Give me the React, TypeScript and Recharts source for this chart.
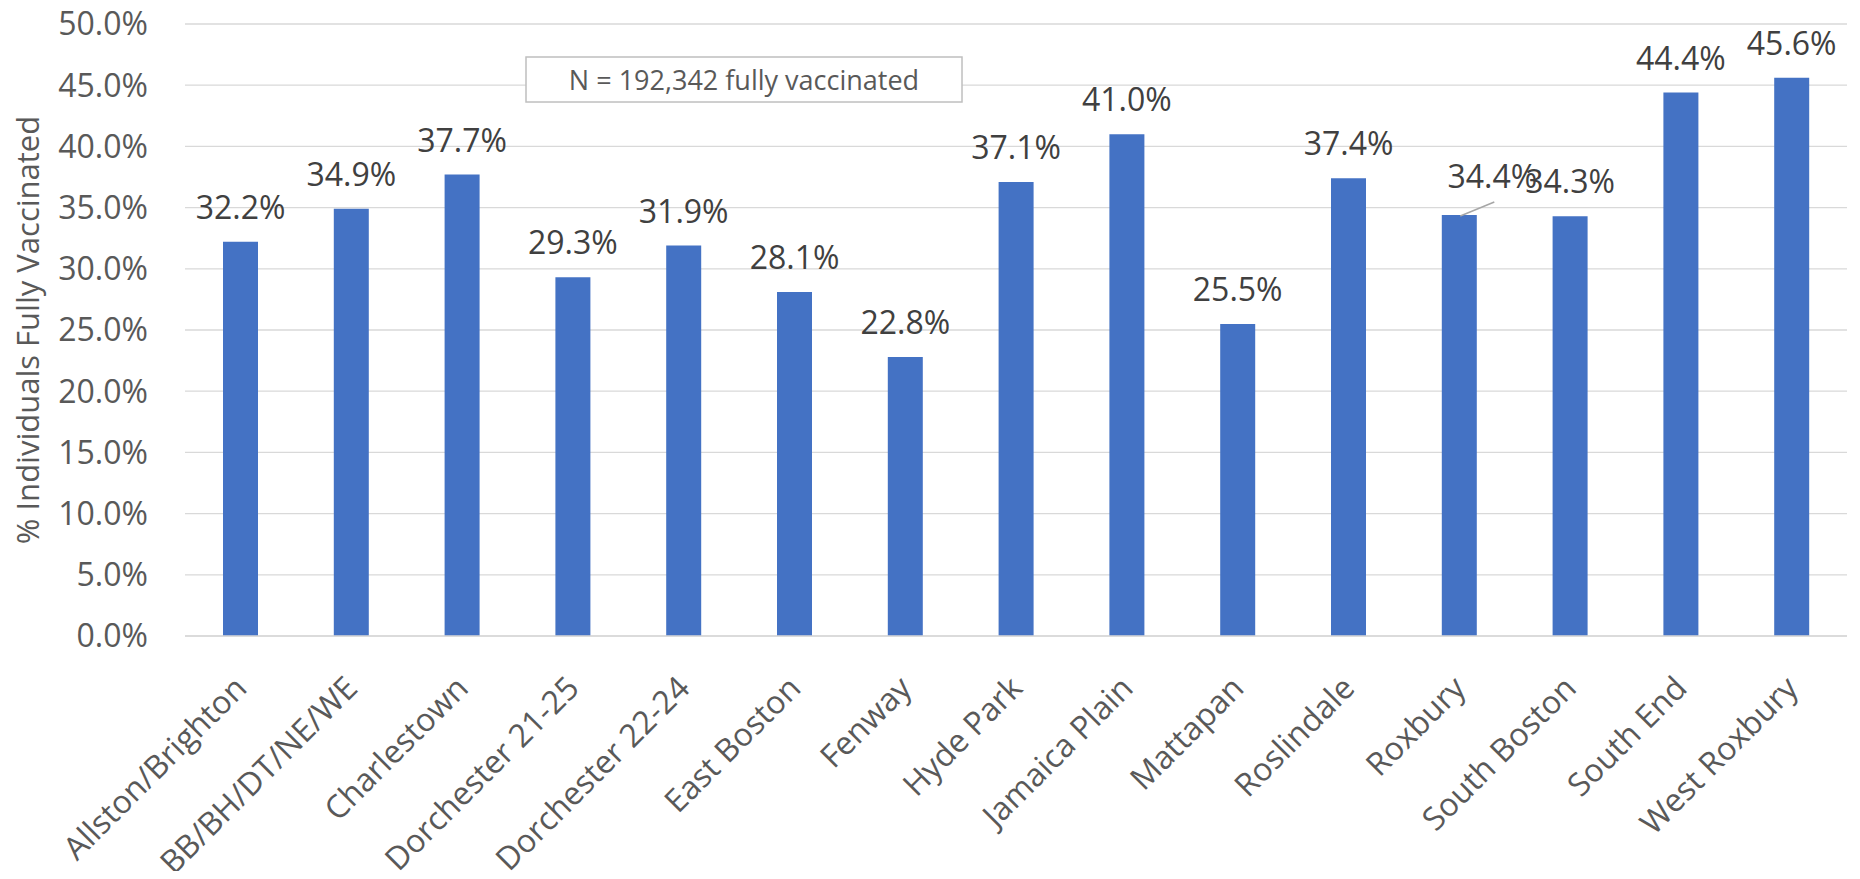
import React from 'react';
import { BarChart, Bar, XAxis, YAxis, CartesianGrid, LabelList } from 'recharts';

const categories = [
  'Allston/Brighton',
  'BB/BH/DT/NE/WE',
  'Charlestown',
  'Dorchester 21-25',
  'Dorchester 22-24',
  'East Boston',
  'Fenway',
  'Hyde Park',
  'Jamaica Plain',
  'Mattapan',
  'Roslindale',
  'Roxbury',
  'South Boston',
  'South End',
  'West Roxbury',
];

const fullyVaccinatedPct = [32.2, 34.9, 37.7, 29.3, 31.9, 28.1, 22.8, 37.1, 41.0, 25.5, 37.4, 34.4, 34.3, 44.4, 45.6];

const yTicks = [0, 5, 10, 15, 20, 25, 30, 35, 40, 45, 50];

const yAxisTitle = '% Individuals Fully Vaccinated';
const annotationText = 'N = 192,342 fully vaccinated';
const calloutCategory = 'Roxbury';

const data = categories.map((name, i) => ({ name, value: fullyVaccinatedPct[i] }));

const FONT = '"Open Sans", sans-serif';
const W = 1860;
const H = 879;

const fmt = (v: number) => `${v.toFixed(1)}%`;

const XTick = (props: any) => {
  const { x, y, payload } = props;
  return (
    <text
      x={x}
      y={y}
      transform={`rotate(-45, ${x}, ${y})`}
      textAnchor="end"
      dy="0.36em"
      fill="#595959"
      fontSize={32}
      fontFamily={FONT}
    >
      {payload.value}
    </text>
  );
};

const renderLabel = (props: any) => {
  const { x, y, width, value, index } = props;
  const cx = Number(x) + Number(width) / 2;
  const top = Number(y);
  const isCallout = categories[index] === calloutCategory;
  if (isCallout) {
    return (
      <g>
        <line x1={cx + 1} y1={top + 1} x2={cx + 35} y2={top - 13} stroke="#a6a6a6" strokeWidth={1.5} />
        <text x={cx + 33} y={top - 27} textAnchor="middle" fill="#404040" fontSize={32} fontFamily={FONT}>
          {fmt(Number(value))}
        </text>
      </g>
    );
  }
  return (
    <text x={cx} y={top - 23} textAnchor="middle" fill="#404040" fontSize={32} fontFamily={FONT}>
      {fmt(Number(value))}
    </text>
  );
};

export default function App() {
  return (
    <div style={{ position: 'relative', width: W, height: H, margin: -8, background: '#fff' }}>
      <BarChart
        width={W}
        height={H}
        data={data}
        margin={{ top: 24, right: 13, left: 0, bottom: 0 }}
      >
        <CartesianGrid vertical={false} stroke="#d9d9d9" strokeWidth={1.3} />
        <XAxis
          dataKey="name"
          interval={0}
          height={243}
          tickLine={false}
          tickSize={0}
          tickMargin={46}
          axisLine={{ stroke: '#d9d9d9', strokeWidth: 1.3 }}
          tick={<XTick />}
        />
        <YAxis
          width={185}
          domain={[0, 50]}
          ticks={yTicks}
          tickFormatter={fmt}
          axisLine={false}
          tickLine={false}
          tickSize={0}
          tickMargin={37}
          tick={{ fill: '#595959', fontSize: 32, fontFamily: FONT }}
        />
        <Bar dataKey="value" fill="#4472C4" barSize={35} isAnimationActive={false}>
          <LabelList dataKey="value" content={renderLabel} />
        </Bar>
      </BarChart>
      <svg
        width={W}
        height={H}
        style={{ position: 'absolute', left: 0, top: 0, pointerEvents: 'none' }}
      >
        <text
          x={39}
          y={330}
          transform="rotate(-90, 39, 330)"
          textAnchor="middle"
          fill="#595959"
          fontSize={31}
          fontFamily={FONT}
        >
          {yAxisTitle}
        </text>
        <rect x={526} y={57} width={436} height={45} fill="#ffffff" stroke="#bfbfbf" strokeWidth={1.5} />
        <text x={744} y={90} textAnchor="middle" fill="#595959" fontSize={27} fontFamily={FONT}>
          {annotationText}
        </text>
      </svg>
    </div>
  );
}
